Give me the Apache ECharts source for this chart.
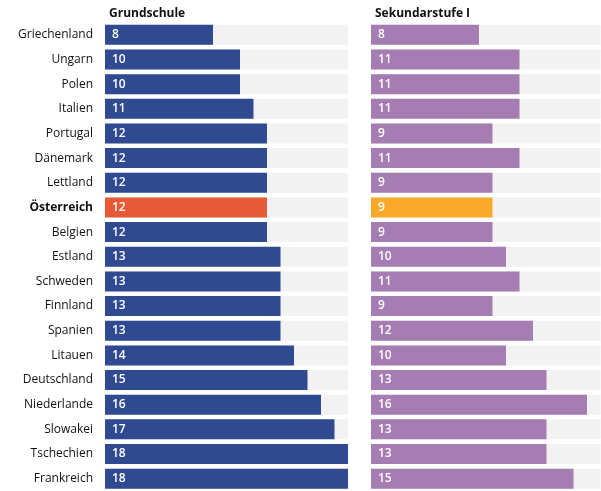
<!DOCTYPE html>
<html><head><meta charset="utf-8">
<script src="https://cdn.jsdelivr.net/npm/echarts@6/dist/echarts.min.js"></script>
<style>html,body{margin:0;padding:0;background:#fff}#c{width:601px;height:491px}</style>
</head><body><div id="c"></div>
<script>
const categories = ["Griechenland","Ungarn","Polen","Italien","Portugal","Dänemark","Lettland","Österreich","Belgien","Estland","Schweden","Finnland","Spanien","Litauen","Deutschland","Niederlande","Slowakei","Tschechien","Frankreich"];
const grundschule = [8,10,10,11,12,12,12,12,12,13,13,13,13,14,15,16,17,18,18];
const sekundarstufe = [8,11,11,11,9,11,9,9,9,10,11,9,12,10,13,16,13,13,15];
const highlight = "Österreich";
const titles = ["Grundschule","Sekundarstufe I"];

const FONT = "Open Sans";
const chart = echarts.init(document.getElementById('c'), null, {renderer:'canvas'});
function mk(vals, base, hi){
  return vals.map((v,i)=>({value:v, itemStyle:{color: categories[i]===highlight?hi:base}}));
}
const label = {show:true, position:'insideLeft', distance:7, color:'#fff', fontFamily:FONT, fontWeight:600, fontSize:12};
chart.setOption({
  animation:false,
  title:[
    {text:titles[0], left:104, top:3, textStyle:{fontFamily:FONT, fontWeight:'bold', fontSize:12, color:'#111'}},
    {text:titles[1], left:370, top:3, textStyle:{fontFamily:FONT, fontWeight:'bold', fontSize:12, color:'#111'}}
  ],
  grid:[
    {left:105, width:243, top:22.5, bottom:-6.5, containLabel:false},
    {left:371, width:229.5, top:22.5, bottom:-6.5, containLabel:false}
  ],
  xAxis:[
    {gridIndex:0, type:'value', min:0, max:18, show:false},
    {gridIndex:1, type:'value', min:0, max:17, show:false}
  ],
  yAxis:[
    {gridIndex:0, type:'category', data:categories, inverse:true, axisLine:{show:false}, axisTick:{show:false},
     axisLabel:{margin:12, fontFamily:FONT, fontSize:12, fontWeight:500, color:'#111',
       formatter:v=> v===highlight?'{b|'+v+'}':v, rich:{b:{fontWeight:'bold', fontFamily:FONT, fontSize:12, color:'#111'}}}},
    {gridIndex:1, type:'category', data:categories, inverse:true, show:false}
  ],
  series:[
    {type:'bar', xAxisIndex:0, yAxisIndex:0, data:mk(grundschule,'#2f4a91','#e85a36'), barWidth:20,
     showBackground:true, backgroundStyle:{color:'#f2f2f2'}, label:label},
    {type:'bar', xAxisIndex:1, yAxisIndex:1, data:mk(sekundarstufe,'#a57db2','#f9a92a'), barWidth:20,
     showBackground:true, backgroundStyle:{color:'#f2f2f2'}, label:label}
  ]
});
</script></body></html>
